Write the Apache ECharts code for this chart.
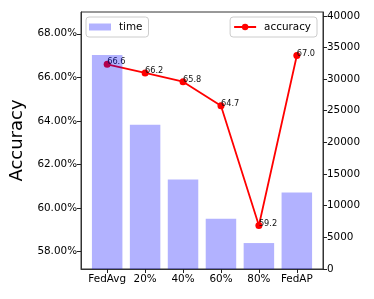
<!DOCTYPE html>
<html>
<head>
<meta charset="utf-8">
<script src="https://cdn.jsdelivr.net/npm/echarts@6/dist/echarts.min.js"></script>
<style>html,body{margin:0;padding:0;background:#fff}#c{width:374px;height:299px}</style>
</head>
<body>
<div id="c"></div>
<script>
const categories = ['FedAvg', '20%', '40%', '60%', '80%', 'FedAP'];
const timeValues = [33800, 22800, 14150, 7950, 4100, 12100];
const accuracyValues = [66.6, 66.2, 65.8, 64.7, 59.2, 67.0];
const leftTicks = [58, 60, 62, 64, 66, 68];
const rightTicks = [0, 5000, 10000, 15000, 20000, 25000, 30000, 35000, 40000];

const FONT = 'DejaVu Sans';
const idx = categories.map((c, i) => i);
const axisLine = {show: true, onZero: false, lineStyle: {color: '#333', width: 1}};
const tick = vals => ({show: true, inside: false, length: 4, lineStyle: {color: '#222', width: 1}, customValues: vals});
const chart = echarts.init(document.getElementById('c'), null, {renderer: 'canvas'});
chart.setOption({
  animation: false,
  textStyle: {fontFamily: FONT},
  grid: {left: 80, right: 51, top: 12, bottom: 30, show: true, borderColor: '#333', borderWidth: 1, backgroundColor: 'transparent'},
  legend: [
    {
      data: [{name: 'time', icon: 'rect'}], left: 86, top: 17, orient: 'horizontal',
      itemWidth: 22, itemHeight: 7, padding: [5, 6, 5, 3],
      borderColor: '#cccccc', borderWidth: 1, borderRadius: 3, backgroundColor: 'rgba(255,255,255,0.8)',
      textStyle: {fontFamily: FONT, fontSize: 10.4, color: '#000', padding: [0, 0, 0, 3]}
    },
    {
      data: ['accuracy'], right: 57, top: 17,
      itemWidth: 22, itemHeight: 8, padding: [5, 6, 5, 3],
      borderColor: '#cccccc', borderWidth: 1, borderRadius: 3, backgroundColor: 'rgba(255,255,255,0.8)',
      textStyle: {fontFamily: FONT, fontSize: 10.4, color: '#000', padding: [0, 0, 0, 3]}
    }
  ],
  xAxis: {
    type: 'value', min: -0.69, max: 5.69,
    splitLine: {show: false},
    axisLine: axisLine,
    axisTick: tick(idx),
    axisLabel: {
      fontFamily: FONT, fontSize: 10.4, color: '#000', margin: 5,
      customValues: idx,
      formatter: v => categories[Math.round(v)]
    }
  },
  yAxis: [
    {
      type: 'value', min: 57.2, max: 69.0, position: 'left',
      name: 'Accuracy', nameLocation: 'middle', nameGap: 55, nameRotate: 90,
      nameTextStyle: {fontFamily: FONT, fontSize: 18, color: '#000'},
      splitLine: {show: false},
      axisLine: axisLine,
      axisTick: tick(leftTicks),
      axisLabel: {fontFamily: FONT, fontSize: 10.4, color: '#000', margin: 4, customValues: leftTicks,
        formatter: v => v.toFixed(2) + '%'}
    },
    {
      type: 'value', min: 0, max: 40600, position: 'right',
      splitLine: {show: false},
      axisLine: axisLine,
      axisTick: tick(rightTicks),
      axisLabel: {fontFamily: FONT, fontSize: 10.4, color: '#000', margin: 4, customValues: rightTicks,
        formatter: v => String(v)}
    }
  ],
  series: [
    {
      name: 'accuracy', type: 'line', xAxisIndex: 0, yAxisIndex: 0, z: 2,
      data: accuracyValues.map((v, i) => [i, v]),
      symbol: 'circle', symbolSize: 7,
      itemStyle: {color: 'red'},
      lineStyle: {color: 'red', width: 1.8},
      label: {
        show: true, position: [3.5, 5.5], align: 'left', verticalAlign: 'bottom',
        fontFamily: FONT, fontSize: 8.2, color: '#111',
        formatter: p => p.value[1].toFixed(1)
      }
    },
    {
      name: 'time', type: 'bar', xAxisIndex: 0, yAxisIndex: 1, z: 3,
      data: timeValues.map((v, i) => [i, v]),
      barWidth: 30.5,
      itemStyle: {color: 'rgba(0,0,255,0.3)'}
    }
  ]
});
</script>
</body>
</html>
